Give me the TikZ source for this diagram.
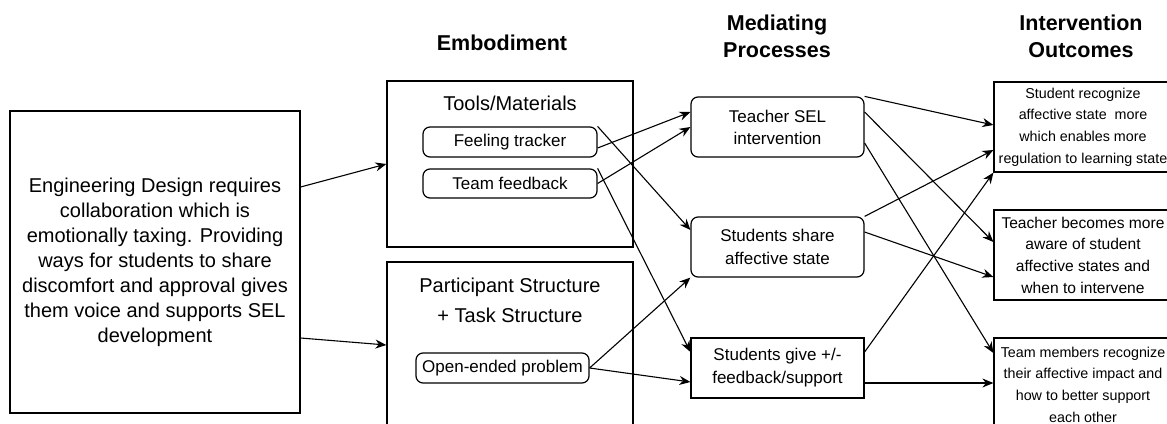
\documentclass[tikz,border=0pt]{standalone}
\usepackage{fontspec}
\setmainfont{Liberation Sans}
\usetikzlibrary{positioning, arrows.meta}

\tikzset{
    box/.style={draw, line width=1.2pt, inner sep=0pt, align=center},
    rbox/.style={box, rounded corners=7pt},
    link/.style={-{Stealth[length=11pt, width=9pt]}, line width=1.1pt},
    head/.style={font=\fontsize{21.5}{27}\selectfont\bfseries, align=center}
}

\begin{document}
\begin{tikzpicture}[x=1pt, y=-1pt]
    \useasboundingbox (0,0) rectangle (1167,423);
    \clip (0,0) rectangle (1167,423);

    % Column headings
    \node[head] (hemb) at (502, 43) {Embodiment};
    \node[head] (hmed) at (777, 36) {Mediating\\Processes};
    \node[head] (hout) at (1081, 36) {Intervention\\Outcomes};

    % Conjecture
    \node[box, minimum width=290pt, minimum height=302pt,
          font=\fontsize{20}{25}\selectfont] (design) at (155, 262)
        {Engineering Design requires\\collaboration which is\\emotionally taxing. Providing\\ways for students to share\\discomfort and approval gives\\them voice and supports SEL\\development};

    % Embodiment
    \node[box, minimum width=246pt, minimum height=166pt] (tools) at (510, 164) {};
    \node[font=\fontsize{20}{25}\selectfont] (toolst) at (510, 103) {Tools/Materials};
    \node[rbox, minimum width=174pt, minimum height=30pt,
          font=\fontsize{17}{21}\selectfont] (feel) at (510, 142) {Feeling tracker};
    \node[rbox, minimum width=174pt, minimum height=29pt,
          font=\fontsize{17}{21}\selectfont] (teamfb) at (510, 183.5) {Team feedback};

    \node[box, minimum width=246pt, minimum height=178pt] (partic) at (510, 351) {};
    \node[font=\fontsize{20}{30}\selectfont, align=center] (partict) at (510, 300)
        {Participant Structure\\+ Task Structure};
    \node[rbox, minimum width=173pt, minimum height=30pt,
          font=\fontsize{17}{21}\selectfont] (openp) at (502.5, 368) {Open-ended problem};

    % Mediating processes
    \node[rbox, minimum width=173pt, minimum height=60pt,
          font=\fontsize{17}{22}\selectfont] (teacher) at (777.5, 127) {Teacher SEL\\intervention};
    \node[rbox, minimum width=173pt, minimum height=60pt,
          font=\fontsize{17}{23}\selectfont] (share) at (777.5, 247) {Students share\\affective state};
    \node[box, minimum width=173pt, minimum height=60pt,
          font=\fontsize{17}{23}\selectfont] (give) at (777.5, 368) {Students give +/-\\feedback/support};

    % Outcomes
    \node[box, minimum width=178pt, minimum height=90pt,
          font=\fontsize{14.3}{21.7}\selectfont] (out1) at (1083, 127)
        {Student recognize\\affective state\ \ more\\which enables more\\regulation to learning state};
    \node[box, minimum width=178pt, minimum height=90pt,
          font=\fontsize{15.6}{21.7}\selectfont] (out2) at (1083, 255)
        {Teacher becomes more\\aware of student\\affective states and\\when to intervene};
    \node[box, minimum width=178pt, minimum height=93pt,
          font=\fontsize{14.3}{21.7}\selectfont] (out3) at (1083, 384.5)
        {Team members recognize\\their affective impact and\\how to better support\\each other};

    % Conjecture to embodiment
    \draw[link] ([yshift=75pt]design.east) -- (tools.west);
    \draw[link] ([yshift=-76pt]design.east) -- ([yshift=6pt]partic.west);

    % Embodiment to mediating processes
    \draw[link] ([yshift=-6pt]feel.east) -- ([yshift=15pt]teacher.west);
    \draw[link] (teamfb.east) -- (teacher.west);
    \draw[link] (feel.north east) -- ([yshift=17pt]share.west);
    \draw[link] (teamfb.north east) -- ([yshift=16pt]give.west);
    \draw[link] (openp.east) -- (share.south west);
    \draw[link] (openp.east) -- ([yshift=-14pt]give.west);

    % Mediating processes to outcomes
    \draw[link] (teacher.north east) -- ([yshift=2pt]out1.west);
    \draw[link] ([yshift=15pt]teacher.east) -- ([yshift=13pt]out2.west);
    \draw[link] ([yshift=-16pt]teacher.east) -- ([yshift=31.5pt]out3.west);
    \draw[link] (share.north east) -- ([yshift=-23pt]out1.west);
    \draw[link] ([yshift=15pt]share.east) -- ([yshift=-22pt]out2.west);
    \draw[link] ([yshift=16pt]give.east) -- (out1.south west);
    \draw[link] ([yshift=-15pt]give.east) -- ([yshift=1.5pt]out3.west);
\end{tikzpicture}
\end{document}
